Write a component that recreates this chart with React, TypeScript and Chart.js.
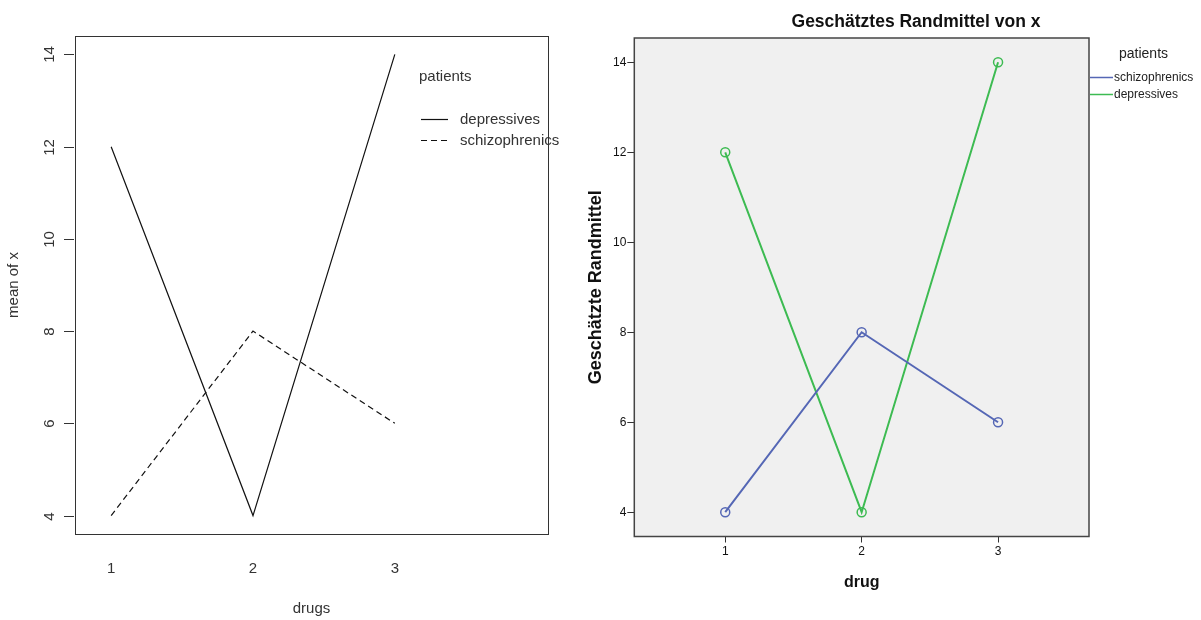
import { useEffect, useRef } from "react";
import { Chart, registerables } from "chart.js";
Chart.register(...registerables);

const drugs = [1, 2, 3];
const depressives = [12, 4, 14];
const schizophrenics = [4, 8, 6];
const yTickValues = [4, 6, 8, 10, 12, 14];
const xTickLabels = ["1", "2", "3"];
const leftLegendLabels = ["depressives", "schizophrenics"];
const rightLegendLabels = ["schizophrenics", "depressives"];
const leftTitleX = "drugs";
const leftTitleY = "mean of x";
const rightTitle = "Geschätztes Randmittel von x";
const rightTitleX = "drug";
const rightTitleY = "Geschätzte Randmittel";
const legendTitle = "patients";

const FONT = "'Liberation Sans', Arial, sans-serif";
const BLUE = "#5567b5";
const GREEN = "#3dbb52";

const pts = (vals: number[]) => drugs.map((d, i) => ({ x: d, y: vals[i] }));

const leftDecor = {
  id: "leftDecor",
  afterDraw(chart: any) {
    const { ctx, chartArea: a, scales } = chart;
    ctx.save();
    ctx.strokeStyle = "#333";
    ctx.lineWidth = 1;
    ctx.strokeRect(Math.round(a.left) + 0.5, Math.round(a.top) + 0.5, Math.round(a.right - a.left), Math.round(a.bottom - a.top));
    const y = scales.y;
    ctx.fillStyle = "#333";
    ctx.font = `15px ${FONT}`;
    ctx.textAlign = "center";
    ctx.textBaseline = "middle";
    yTickValues.forEach((v) => {
      const py = Math.round(y.getPixelForValue(v)) + 0.5;
      ctx.beginPath();
      ctx.moveTo(a.left - 11, py);
      ctx.lineTo(a.left - 1, py);
      ctx.stroke();
      ctx.save();
      ctx.translate(a.left - 25, py);
      ctx.rotate(-Math.PI / 2);
      ctx.fillText(String(v), 0, 0);
      ctx.restore();
    });
    // legend
    ctx.textAlign = "left";
    ctx.fillText(legendTitle, 419, 77);
    const ly = [119.5, 140.5];
    leftLegendLabels.forEach((lab, i) => {
      ctx.beginPath();
      ctx.strokeStyle = "#111";
      ctx.lineWidth = 1.2;
      ctx.setLineDash(i === 1 ? [6, 4] : []);
      ctx.moveTo(421, ly[i]);
      ctx.lineTo(448, ly[i]);
      ctx.stroke();
      ctx.setLineDash([]);
      ctx.fillText(lab, 460, ly[i]);
    });
    ctx.restore();
  },
};

const rightDecor = {
  id: "rightDecor",
  beforeDraw(chart: any) {
    const { ctx, chartArea: a } = chart;
    ctx.save();
    ctx.fillStyle = "#f0f0f0";
    ctx.fillRect(a.left, a.top, a.right - a.left, a.bottom - a.top);
    ctx.restore();
  },
  afterDraw(chart: any) {
    const { ctx, chartArea: a } = chart;
    ctx.save();
    ctx.strokeStyle = "#444";
    ctx.lineWidth = 1.5;
    ctx.strokeRect(a.left, a.top, a.right - a.left, a.bottom - a.top);
    ctx.fillStyle = "#111";
    ctx.font = `bold 17.5px ${FONT}`;
    ctx.textAlign = "center";
    ctx.textBaseline = "middle";
    ctx.fillText(rightTitle, 336, 22.5);
    ctx.font = `14px ${FONT}`;
    ctx.fillStyle = "#222";
    ctx.textAlign = "left";
    ctx.fillText(legendTitle, 539, 54);
    ctx.font = `12px ${FONT}`;
    const ly = [77.5, 94.5];
    const cols = [BLUE, GREEN];
    rightLegendLabels.forEach((lab, i) => {
      ctx.beginPath();
      ctx.strokeStyle = cols[i];
      ctx.lineWidth = 1.5;
      ctx.moveTo(510, ly[i]);
      ctx.lineTo(533, ly[i]);
      ctx.stroke();
      ctx.fillText(lab, 534, ly[i]);
    });
    ctx.restore();
  },
};

function LeftChart() {
  const ref = useRef<HTMLCanvasElement>(null);
  useEffect(() => {
    const chart = new Chart(ref.current!, {
      type: "line",
      data: {
        datasets: [
          { label: leftLegendLabels[0], data: pts(depressives), borderColor: "#111", borderWidth: 1.2, pointRadius: 0, tension: 0 },
          { label: leftLegendLabels[1], data: pts(schizophrenics), borderColor: "#111", borderWidth: 1.2, borderDash: [6, 4], pointRadius: 0, tension: 0 },
        ],
      },
      options: {
        responsive: false,
        animation: false,
        layout: { padding: { top: 36, right: 32, left: 0, bottom: 0 } },
        plugins: { legend: { display: false }, tooltip: { enabled: false } },
        scales: {
          x: {
            type: "linear",
            min: 0.745,
            max: 4.08,
            afterBuildTicks: (s: any) => { s.ticks = drugs.map((v) => ({ value: v })); },
            afterFit: (s: any) => { s.height = 86; },
            grid: { display: false, drawTicks: false },
            border: { display: false },
            ticks: { color: "#333", font: { size: 15, family: FONT }, padding: 26, callback: (v: any) => xTickLabels[drugs.indexOf(v)] ?? "" },
            title: { display: true, text: leftTitleX, color: "#333", font: { size: 15, family: FONT }, padding: { top: 0, bottom: 2 } },
          },
          y: {
            type: "linear",
            min: 3.6,
            max: 14.4,
            afterBuildTicks: (s: any) => { s.ticks = yTickValues.map((v) => ({ value: v })); },
            afterFit: (s: any) => { s.width = 75; },
            grid: { display: false, drawTicks: false },
            border: { display: false },
            ticks: { display: false },
            title: { display: true, text: leftTitleY, color: "#333", font: { size: 15, family: FONT }, padding: { top: 4.5, bottom: 0 } },
          },
        },
      } as any,
      plugins: [leftDecor],
    });
    return () => chart.destroy();
  }, []);
  return <canvas ref={ref} width={580} height={620} style={{ position: "absolute", left: 0, top: 0 }} />;
}

function RightChart() {
  const ref = useRef<HTMLCanvasElement>(null);
  useEffect(() => {
    const chart = new Chart(ref.current!, {
      type: "line",
      data: {
        datasets: [
          { label: rightLegendLabels[0], data: pts(schizophrenics), borderColor: BLUE, borderWidth: 2, pointRadius: 4.5, pointBorderWidth: 1.5, pointBackgroundColor: "rgba(0,0,0,0)", pointBorderColor: BLUE, tension: 0 },
          { label: rightLegendLabels[1], data: pts(depressives), borderColor: GREEN, borderWidth: 2, pointRadius: 4.5, pointBorderWidth: 1.5, pointBackgroundColor: "rgba(0,0,0,0)", pointBorderColor: GREEN, tension: 0 },
        ],
      },
      options: {
        responsive: false,
        animation: false,
        layout: { padding: { top: 38, right: 112, left: 0, bottom: 0 } },
        plugins: { legend: { display: false }, tooltip: { enabled: false } },
        scales: {
          x: {
            type: "linear",
            min: 1 / 3,
            max: 11 / 3,
            afterBuildTicks: (s: any) => { s.ticks = drugs.map((v) => ({ value: v })); },
            afterFit: (s: any) => { s.height = 83.5; },
            grid: { display: true, drawOnChartArea: false, drawTicks: true, tickLength: 6, color: "#333", lineWidth: 1 },
            border: { display: false },
            ticks: { color: "#111", font: { size: 12, family: FONT }, padding: 2, callback: (v: any) => xTickLabels[drugs.indexOf(v)] ?? "" },
            title: { display: true, text: rightTitleX, color: "#111", font: { size: 16, weight: "bold", family: FONT }, padding: { top: 0, bottom: 28 } },
          },
          y: {
            type: "linear",
            min: 3.46,
            max: 14.54,
            afterBuildTicks: (s: any) => { s.ticks = yTickValues.map((v) => ({ value: v })); },
            afterFit: (s: any) => { s.width = 54.3; },
            grid: { display: true, drawOnChartArea: false, drawTicks: true, tickLength: 7, color: "#333", lineWidth: 1 },
            border: { display: false },
            ticks: { color: "#111", font: { size: 12, family: FONT }, padding: 1 },
            title: { display: true, text: rightTitleY, color: "#111", font: { size: 18, weight: "bold", family: FONT }, padding: { top: 5, bottom: 0 } },
          },
        },
      } as any,
      plugins: [rightDecor],
    });
    return () => chart.destroy();
  }, []);
  return <canvas ref={ref} width={621} height={620} style={{ position: "absolute", left: 580, top: 0 }} />;
}

export default function App() {
  return (
    <div style={{ position: "fixed", left: 0, top: 0, width: 1201, height: 620, background: "#fff", overflow: "hidden" }}>
      <LeftChart />
      <RightChart />
    </div>
  );
}
